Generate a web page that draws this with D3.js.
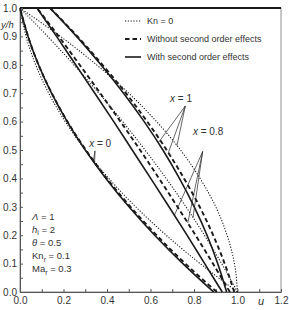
<!DOCTYPE html>
<html>
<head>
<meta charset="utf-8">
<script src="https://cdn.jsdelivr.net/npm/d3@7"></script>
<style>
  body { margin: 0; background: #fff; }
  svg { display: block; font-family: "Liberation Sans", Arial, sans-serif; }
</style>
</head>
<body>
<svg id="chart"></svg>
<script>
const WIDTH = 289;
const HEIGHT = 310;
const INK = "#1a1a1a";
const TEXT = "#333";

const yLevels = [0, 0.1, 0.2, 0.3, 0.4, 0.5, 0.6, 0.7, 0.8, 0.9, 1.0];

// u values, x = 0
const x0Kn0 = [1.0, 0.828, 0.672, 0.532, 0.408, 0.3, 0.208, 0.132, 0.072, 0.028, 0];
const x0Without = [0.905, 0.76, 0.628, 0.508, 0.399, 0.303, 0.218, 0.146, 0.085, 0.037, 0];
const x0With = [0.89, 0.749, 0.619, 0.501, 0.395, 0.3, 0.217, 0.145, 0.085, 0.037, 0];

// u values, x = 0.8
const x08Kn0 = [1.0, 0.927, 0.848, 0.763, 0.672, 0.575, 0.472, 0.363, 0.248, 0.127, 0];
const x08Without = [0.965, 0.887, 0.807, 0.724, 0.639, 0.552, 0.462, 0.369, 0.274, 0.178, 0.078];
const x08With = [0.93, 0.849, 0.768, 0.685, 0.601, 0.516, 0.431, 0.344, 0.256, 0.168, 0.078];

// u values, x = 1
const x1Kn0 = [1.0, 0.986, 0.952, 0.9, 0.828, 0.738, 0.628, 0.5, 0.352, 0.186, 0];
const x1Without = [0.985, 0.941, 0.888, 0.826, 0.754, 0.674, 0.585, 0.487, 0.379, 0.264, 0.138];
const x1With = [0.95, 0.909, 0.86, 0.801, 0.733, 0.657, 0.571, 0.476, 0.372, 0.26, 0.138];

const xTickValues = [0, 0.1, 0.2, 0.3, 0.4, 0.5, 0.6, 0.7, 0.8, 0.9, 1.0, 1.1, 1.2];
const xLabelled = [0, 0.2, 0.4, 0.6, 0.8, 1.0, 1.2];
const yTickValues = [0, 0.05, 0.1, 0.15, 0.2, 0.25, 0.3, 0.35, 0.4, 0.45, 0.5,
  0.55, 0.6, 0.65, 0.7, 0.75, 0.8, 0.85, 0.9, 0.95, 1.0];
const yLabelled = [0, 0.1, 0.2, 0.3, 0.4, 0.5, 0.6, 0.7, 0.8, 0.9, 1.0];

const legendLabels = ["Kn = 0", "Without second order effects", "With second order effects"];

const styles = {
  kn0: { width: 1.1, dash: "1.2,1.6" },
  without: { width: 1.9, dash: "4.5,3" },
  with: { width: 1.6, dash: null },
};

const curves = [
  { u: x0Kn0, style: "kn0" },
  { u: x0Without, style: "without" },
  { u: x0With, style: "with" },
  { u: x08Kn0, style: "kn0" },
  { u: x08Without, style: "without" },
  { u: x08With, style: "with" },
  { u: x1Kn0, style: "kn0" },
  { u: x1Without, style: "without" },
  { u: x1With, style: "with" },
];

// annotation: label spot, apex of the pointer, and the y/h where each pointer meets its curve
const notes = [
  { name: "1", at: [0.69, 0.67], apex: [0.76, 0.655], tips: [[x1With, 0.525], [x1Without, 0.49], [x1Kn0, 0.515]] },
  { name: "0.8", at: [0.795, 0.553], apex: [0.84, 0.495], tips: [[x08With, 0.27], [x08Without, 0.243], [x08Kn0, 0.262]] },
  { name: "0", at: [0.318, 0.512], apex: [0.345, 0.497], tips: [[x0With, 0.455], [x0Kn0, 0.465]] },
];

const MARGIN = { top: 8, right: 8, bottom: 18, left: 20 };

const svg = d3.select("#chart").attr("width", WIDTH).attr("height", HEIGHT);

const xScale = d3.scaleLinear().domain([0, 1.2]).range([MARGIN.left, WIDTH - MARGIN.right]);
const yScale = d3.scaleLinear().domain([0, 1]).range([HEIGHT - MARGIN.bottom, MARGIN.top]);

const fmt = d3.format(".1f");
const isLabelled = (list) => (d) => list.some((v) => Math.abs(v - d) < 1e-9);

// frame
svg.append("rect")
  .attr("x", xScale(0)).attr("y", yScale(1))
  .attr("width", xScale(1.2) - xScale(0)).attr("height", yScale(0) - yScale(1))
  .attr("fill", "none").attr("stroke", "#777").attr("stroke-width", 0.8);
svg.append("line")
  .attr("x1", xScale(0)).attr("x2", xScale(1.2))
  .attr("y1", yScale(1)).attr("y2", yScale(1))
  .attr("stroke", INK).attr("stroke-width", 2);

// x axis, ticks inward
const xAxis = svg.append("g")
  .attr("transform", `translate(0, ${yScale(0)})`)
  .call(d3.axisBottom(xScale).tickValues(xTickValues)
    .tickSizeInner(-3).tickSizeOuter(0).tickPadding(5)
    .tickFormat((d) => (isLabelled(xLabelled)(d) ? fmt(d) : "")));
xAxis.select(".domain").attr("stroke", "#555");
xAxis.selectAll(".tick line").attr("stroke", "#555");
xAxis.selectAll("text").attr("font-size", 10).attr("fill", TEXT)
  .attr("font-family", "Liberation Sans, Arial, sans-serif");

// y axis, ticks inward
const yAxis = svg.append("g")
  .attr("transform", `translate(${xScale(0)}, 0)`)
  .call(d3.axisLeft(yScale).tickValues(yTickValues)
    .tickSizeInner(-3).tickSizeOuter(0).tickPadding(3)
    .tickFormat((d) => (isLabelled(yLabelled)(d) ? fmt(d) : "")));
yAxis.select(".domain").attr("stroke", "#555");
yAxis.selectAll(".tick line").attr("stroke", "#555");
yAxis.selectAll("text").attr("font-size", 10).attr("fill", TEXT)
  .attr("font-family", "Liberation Sans, Arial, sans-serif");

// axis titles
svg.append("text").attr("x", 1).attr("y", 28)
  .attr("font-size", 9.5).attr("font-style", "italic").attr("fill", TEXT).text("y/h");
svg.append("text").attr("x", 258).attr("y", 305)
  .attr("font-size", 11).attr("font-style", "italic").attr("fill", TEXT).text("u");

// profiles
const line = d3.line()
  .x((d) => xScale(d[0]))
  .y((d) => yScale(d[1]))
  .curve(d3.curveMonotoneY);

svg.append("g").selectAll("path")
  .data(curves)
  .join("path")
  .attr("d", (c) => line(c.u.map((u, i) => [u, yLevels[i]])))
  .attr("fill", "none")
  .attr("stroke", INK)
  .attr("stroke-width", (c) => styles[c.style].width)
  .attr("stroke-dasharray", (c) => styles[c.style].dash);

// pointers and their labels
function uAt(profile, y) {
  return d3.scaleLinear().domain(yLevels).range(profile)(y);
}

const noteG = svg.append("g");
notes.forEach((n) => {
  n.tips.forEach(([profile, y]) => {
    noteG.append("line")
      .attr("x1", xScale(n.apex[0])).attr("y1", yScale(n.apex[1]))
      .attr("x2", xScale(uAt(profile, y))).attr("y2", yScale(y))
      .attr("stroke", "#222").attr("stroke-width", 0.7);
  });
  const t = noteG.append("text")
    .attr("x", xScale(n.at[0])).attr("y", yScale(n.at[1]))
    .attr("font-size", 10).attr("fill", TEXT);
  t.append("tspan").attr("font-style", "italic").text("x");
  t.append("tspan").text(" = " + n.name);
});

// legend
const legend = svg.append("g");
legendLabels.forEach((label, i) => {
  const key = ["kn0", "without", "with"][i];
  const y = 21 + i * 18;
  legend.append("line")
    .attr("x1", 125).attr("x2", 141).attr("y1", y).attr("y2", y)
    .attr("stroke", INK)
    .attr("stroke-width", styles[key].width)
    .attr("stroke-dasharray", styles[key].dash);
  legend.append("text")
    .attr("x", 147).attr("y", y + 3.3)
    .attr("font-size", 9).attr("fill", TEXT).text(label);
});

// parameters text
const params = [
  [["Λ", "italic"], [" = 1", "normal"]],
  [["h", "italic"], ["i", "sub"], [" = 2", "normal"]],
  [["θ", "italic"], [" = 0.5", "normal"]],
  [["Kn", "normal"], ["r", "sub"], [" = 0.1", "normal"]],
  [["Ma", "normal"], ["r", "sub"], [" = 0.3", "normal"]],
];
params.forEach((parts, i) => {
  const t = svg.append("text")
    .attr("x", 32).attr("y", 219.5 + i * 13.2)
    .attr("font-size", 9.5).attr("fill", TEXT);
  parts.forEach(([s, kind]) => {
    const sp = t.append("tspan").text(s);
    if (kind === "italic") sp.attr("font-style", "italic");
    if (kind === "sub") sp.attr("font-size", 7).attr("dy", 2.5);
    else if (parts.some((p) => p[1] === "sub") && s.startsWith(" ")) sp.attr("dy", -2.5);
  });
});
</script>
</body>
</html>
